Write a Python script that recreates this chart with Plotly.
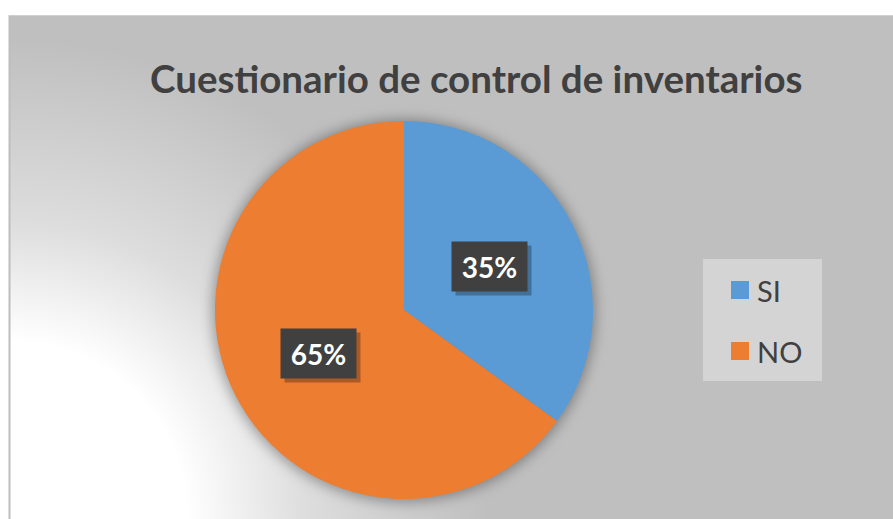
import base64
import math
import plotly.graph_objects as go

# ---- data ----
labels = ["SI", "NO"]
values = [35, 65]
colors = ["#5B9BD5", "#ED7D31"]
title_text = "Cuestionario de control de inventarios"

# ---- layout constants (pixels) ----
W, H = 893, 519
pie_cx, pie_cy, pie_r = 404, 310, 189  # from top-left
area_x0, area_y0 = 9, 15

def px_x(x):
    return x / W

def px_y(y):
    return 1 - y / H

svg = f'''<svg xmlns="http://www.w3.org/2000/svg" width="{W}" height="{H}" viewBox="0 0 {W} {H}">
<defs>
<radialGradient id="g" gradientUnits="userSpaceOnUse" cx="{area_x0}" cy="{H}" r="480">
<stop offset="0" stop-color="#FFFFFF"/>
<stop offset="0.37" stop-color="#FFFFFF"/>
<stop offset="0.62" stop-color="#DDDDDD"/>
<stop offset="1" stop-color="#BFBFBF"/>
</radialGradient>
<filter id="b" x="-20%" y="-20%" width="140%" height="140%"><feGaussianBlur stdDeviation="7"/></filter>
</defs>
<rect x="0" y="0" width="{W}" height="{H}" fill="#FFFFFF"/>
<rect x="{area_x0}" y="{area_y0}" width="{W-area_x0}" height="{H-area_y0}" fill="url(#g)"/>
<line x1="{area_x0+0.5}" y1="{area_y0}" x2="{area_x0+0.5}" y2="{H}" stroke="#BDBDBD" stroke-width="2"/>
<line x1="{area_x0}" y1="{area_y0+0.5}" x2="{W}" y2="{area_y0+0.5}" stroke="#D0D0D0" stroke-width="1"/>
<circle cx="{pie_cx}" cy="{pie_cy+1}" r="{pie_r+2}" fill="#000000" fill-opacity="0.35" filter="url(#b)"/>
</svg>'''
svg_uri = "data:image/svg+xml;base64," + base64.b64encode(svg.encode()).decode()

fig = go.Figure()
fig.add_trace(go.Pie(
    labels=labels, values=values, sort=False, direction="clockwise", rotation=0,
    marker=dict(colors=colors, line=dict(width=0)),
    textinfo="none", showlegend=False,
    domain=dict(x=[px_x(pie_cx - pie_r), px_x(pie_cx + pie_r)],
                y=[px_y(pie_cy + pie_r), px_y(pie_cy - pie_r)]),
))

annotations = []
shapes = []
total = sum(values)
cum = 0
for lab, v in zip(labels, values):
    theta = 2 * math.pi * (cum + v / 2) / total
    cum += v
    lx = pie_cx + 0.51 * pie_r * math.sin(theta)
    ly = pie_cy - 0.51 * pie_r * math.cos(theta)
    txt = f"{round(100 * v / total)}%"
    # shadow
    annotations.append(dict(
        x=px_x(lx + 4), y=px_y(ly + 4), xref="paper", yref="paper",
        xanchor="center", yanchor="middle",
        text=" ", showarrow=False, width=75, height=49, borderpad=0,
        bgcolor="rgba(0,0,0,0.28)", font=dict(size=27, family="Lato")))
    annotations.append(dict(
        x=px_x(lx), y=px_y(ly), xref="paper", yref="paper",
        xanchor="center", yanchor="middle",
        text=f"<b>{txt}</b>", showarrow=False, width=75, height=49, borderpad=0,
        bgcolor="#404040", align="center", valign="middle",
        font=dict(size=28, family="Lato", color="#FFFFFF")))

# manual legend
lg_x0, lg_y0, lg_x1, lg_y1 = 703, 259, 822, 381
shapes.append(dict(type="rect", xref="paper", yref="paper",
                   x0=px_x(lg_x0), x1=px_x(lg_x1), y0=px_y(lg_y1), y1=px_y(lg_y0),
                   fillcolor="#D4D4D4", line=dict(width=0), layer="above"))
item_y = [290, 351]
for lab, col, iy in zip(labels, colors, item_y):
    shapes.append(dict(type="rect", xref="paper", yref="paper",
                       x0=px_x(731), x1=px_x(749), y0=px_y(iy + 9), y1=px_y(iy - 9),
                       fillcolor=col, line=dict(width=0), layer="above"))
    annotations.append(dict(x=px_x(755), y=px_y(iy), xref="paper", yref="paper",
                            xanchor="left", yanchor="middle", text=lab, showarrow=False,
                            font=dict(size=29, family="Lato", color="#404040")))

annotations.append(dict(x=px_x(476), y=px_y(78), xref="paper", yref="paper",
                        xanchor="center", yanchor="middle", text=f"<b>{title_text}</b>",
                        showarrow=False, font=dict(size=38.5, family="Lato", color="#404040")))

fig.update_layout(
    width=W, height=H, margin=dict(l=0, r=0, t=0, b=0),
    paper_bgcolor="#FFFFFF", plot_bgcolor="rgba(0,0,0,0)",
    images=[dict(source=svg_uri, xref="paper", yref="paper", x=0, y=1,
                 sizex=1, sizey=1, xanchor="left", yanchor="top",
                 sizing="stretch", layer="below")],
    shapes=shapes, annotations=annotations,
)
fig.write_html("out.html", config={"displayModeBar": False},
               post_script="document.body.style.margin='0';document.body.style.overflow='hidden';")
